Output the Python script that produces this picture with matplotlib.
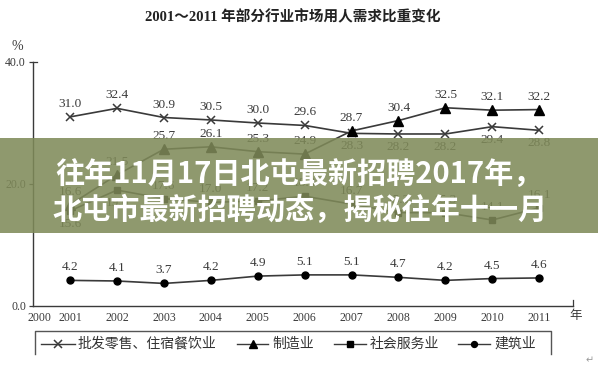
import matplotlib
matplotlib.use('Agg')
import matplotlib.pyplot as plt
from matplotlib.patches import Rectangle
from matplotlib.lines import Line2D

# ---------------- data ----------------
years = [2001, 2002, 2003, 2004, 2005, 2006, 2007, 2008, 2009, 2010, 2011]
wholesale = [31.0, 32.4, 30.9, 30.5, 30.0, 29.6, 28.3, 28.2, 28.2, 29.4, 28.8]
manufacturing = [16.6, 21.5, 25.7, 26.1, 25.3, 24.9, 28.7, 30.4, 32.5, 32.1, 32.2]
social = [15.6, 19.0, 17.6, 17.0, 17.2, 18.0, 16.7, 15.3, 15.3, 14.1, 16.1]
construction = [4.2, 4.1, 3.7, 4.2, 4.9, 5.1, 5.1, 4.7, 4.2, 4.5, 4.6]
series_names = ['批发零售、住宿餐饮业', '制造业', '社会服务业', '建筑业']
x_tick_labels = ['2000', '2001', '2002', '2003', '2004', '2005', '2006',
                 '2007', '2008', '2009', '2010', '2011']
y_ticks = [0, 20, 40]
y_tick_labels = ['0.0', '20.0', '40.0']
title = '2001～2011 年部分行业市场用人需求比重变化'
banner_lines = ['往年11月17日北屯最新招聘2017年，', '北屯市最新招聘动态，揭秘往年十一月']

# ---------------- layout helpers ----------------
W, H = 598, 372
fig = plt.figure(figsize=(W / 100, H / 100), dpi=100)
fig.patch.set_facecolor('white')


def fx(px):
    return px / W


def fy(py):
    return 1 - py / H


ink = '#3a3a3a'
serif = ['Liberation Serif', 'DejaVu Serif']
cjk = ['Noto Sans CJK SC', 'DejaVu Sans']

ax = fig.add_axes([fx(33), fy(306), fx(573) - fx(33), fy(62) - fy(306)])
ax.set_xlim(2000.21, 2011.72)
ax.set_ylim(0, 40)
for s in ['top', 'right']:
    ax.spines[s].set_visible(False)
for s in ['left', 'bottom']:
    ax.spines[s].set_color(ink)
    ax.spines[s].set_linewidth(1.0)

ax.set_xticks([2000.34] + years)
ax.set_xticklabels(x_tick_labels, fontfamily=serif, fontsize=8.5, color=ink)
ax.tick_params(axis='x', length=0, pad=4)
ax.set_yticks(y_ticks)
ax.set_yticklabels(y_tick_labels, fontfamily=serif, fontsize=8.5, color=ink)
ax.tick_params(axis='y', length=3, width=0.9, color=ink, pad=2)

# end ticks
ax.add_line(Line2D([1, 1], [0, 0.025], transform=ax.transAxes, color=ink, lw=0.9, clip_on=False))
ax.add_line(Line2D([0, 0.008], [1, 1], transform=ax.transAxes, color=ink, lw=0.9, clip_on=False))

line_kw = dict(color=ink, lw=1.2, clip_on=False)
styles = [
    dict(marker='x', ms=6, mew=1.1, mec=ink),
    dict(marker='^', ms=6.5, mfc='black', mec='black'),
    dict(marker='s', ms=4.5, mfc='black', mec='black'),
    dict(marker='o', ms=5, mfc='black', mec='black'),
]
all_series = [wholesale, manufacturing, social, construction]
lines = []
for vals, st in zip(all_series, styles):
    ln, = ax.plot(years, vals, **line_kw, **st)
    lines.append(ln)

# value labels
positions = [
    ['a'] * 6 + ['b'] * 5,
    ['a'] * 11,
    ['b', 'b'] + ['a'] * 9,
    ['a'] * 11,
]
for vals, pos in zip(all_series, positions):
    for x, v, p in zip(years, vals, pos):
        if p == 'a':
            ax.annotate(f'{v:.1f}', (x, v), xytext=(0, 5), textcoords='offset points',
                        ha='center', va='bottom', fontfamily=serif, fontsize=9.5, color=ink)
        else:
            ax.annotate(f'{v:.1f}', (x, v), xytext=(0, -5), textcoords='offset points',
                        ha='center', va='top', fontfamily=serif, fontsize=9.5, color=ink)

# axis unit labels
fig.text(fx(17), fy(47), '%', ha='center', va='center', fontfamily=serif, fontsize=10, color=ink)
fig.text(fx(576), fy(316), '年', ha='center', va='center', fontfamily=cjk, fontsize=9, color=ink)

# title
fig.text(fx(293), fy(17), title, ha='center', va='center', fontfamily=['Liberation Serif', 'Noto Sans CJK SC'],
         fontweight='bold', fontsize=10.5, color='#222222')

# legend box (open at bottom)
box_color = '#555555'
fig.add_artist(Line2D([fx(35), fx(35), fx(551), fx(551)], [fy(354), fy(331), fy(331), fy(354)],
                      transform=fig.transFigure, color=box_color, lw=1.0))
leg_items = [(41, 75, 78), (237, 268, 272), (334, 366, 370), (458, 490, 494)]
for (x0, x1, tx), st, name in zip(leg_items, styles, series_names):
    fig.add_artist(Line2D([fx(x0), fx(x1)], [fy(344), fy(344)], transform=fig.transFigure,
                          color=ink, lw=1.0))
    st2 = dict(st)
    st2['ms'] = st2['ms'] * 0.85
    fig.add_artist(Line2D([fx((x0 + x1) / 2)], [fy(344)], transform=fig.transFigure,
                          linestyle='none', **st2))
    fig.text(fx(tx), fy(344), name, ha='left', va='center', fontfamily=cjk, fontsize=10,
             color='#333333')

fig.text(fx(590), fy(360), '↵', ha='center', va='center', fontsize=7, color='#999999')

# banner overlay
fig.add_artist(Rectangle((0, fy(233)), 1, fy(138) - fy(233), transform=fig.transFigure,
                         facecolor='#7f8a59', edgecolor='none', alpha=0.87, zorder=10))
fig.text(fx(299), fy(174), banner_lines[0], ha='center', va='center', color='white',
         fontsize=21, fontweight='heavy', fontfamily=cjk, zorder=11)
fig.text(fx(300), fy(210), banner_lines[1], ha='center', va='center', color='white',
         fontsize=21, fontweight='heavy', fontfamily=cjk, zorder=11)

fig.savefig('out.png', dpi=100, facecolor='white')
